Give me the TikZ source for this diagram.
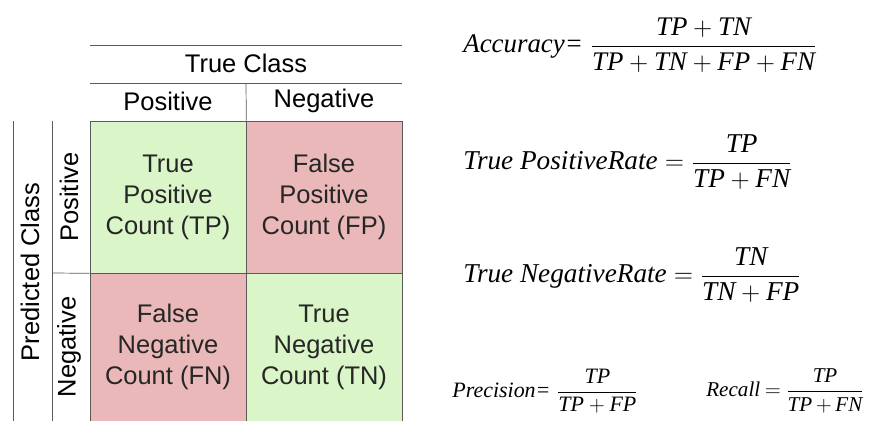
\documentclass[tikz,border=0pt]{standalone}
\usepackage{amsmath}
\usepackage{fontspec}
\setmainfont{Liberation Sans}
\newfontfamily\formfont{Liberation Serif}
\definecolor{cellgreen}{RGB}{218,246,200}
\definecolor{cellred}{RGB}{234,184,184}
\definecolor{rulegray}{RGB}{90,90,90}
\newcommand{\fw}[1]{\text{\formfont\itshape #1}}
\tikzset{
  cell/.style={draw=rulegray, minimum width=3.12cm, align=center, inner sep=0pt,
    text=black!85, font=\fontsize{14.5}{17.6}\selectfont},
  head/.style={font=\fontsize{14.5}{17.6}\selectfont},
  formula/.style={anchor=west, inner sep=0pt, font=\fontsize{15.5}{19}\selectfont},
  smallformula/.style={formula, font=\fontsize{12.5}{16}\selectfont}
}
\begin{document}
\begin{tikzpicture}[x=0.02cm, y=-0.02cm]
\useasboundingbox (0,0) rectangle (869,421);
% Matrix cells
\node[cell, fill=cellgreen, minimum height=3.04cm] (tp) at (168,197) {True\\Positive\\Count (TP)};
\node[cell, fill=cellred, minimum height=3.04cm] (fp) at (324,197) {False\\Positive\\Count (FP)};
\node[cell, fill=cellred, minimum height=2.96cm] (fn) at (168,347) {False\\Negative\\Count (FN)};
\node[cell, fill=cellgreen, minimum height=2.96cm] (tn) at (324,347) {True\\Negative\\Count (TN)};

% True class header
\node[head] (trueclass) at (246,63) {True Class};
\node[head] (tpos) at (168,101) {Positive};
\node[head] (tneg) at (324,101) {Negative};
\draw[rulegray] (90,45) -- (402,45);
\draw[rulegray] (90,83) -- (402,83);
\draw[rulegray] (246,83) -- (tp.north east);

% Predicted class header
\node[head, rotate=90] (predclass) at (30,272) {Predicted Class};
\node[head, rotate=90] (ppos) at (69,197) {Positive};
\node[head, rotate=90] (pneg) at (69,347) {Negative};
\draw[rulegray] (13,121) -- (13,421);
\draw[rulegray] (52,121) -- (52,421);
\draw[rulegray] (52,273) -- (tp.south west);

% Formulas
\node[formula, font=\fontsize{15.3}{18}\selectfont] (acc) at (463,45) {$\displaystyle \fw{Accuracy=}\;\frac{\fw{TP}+\fw{TN}}{\fw{TP}+\fw{TN}+\fw{FP}+\fw{FN}}$};
\node[formula] (tpr) at (463,162) {$\displaystyle \fw{True PositiveRate} = \frac{\fw{TP}}{\fw{TP}+\fw{FN}}$};
\node[formula] (tnr) at (463,275) {$\displaystyle \fw{True NegativeRate} = \frac{\fw{TN}}{\fw{TN}+\fw{FP}}$};
\node[smallformula] (prec) at (452,391) {$\displaystyle \fw{Precision=}\;\frac{\fw{TP}}{\fw{TP}+\fw{FP}}$};
\node[smallformula, font=\fontsize{12}{15}\selectfont] (rec) at (706,391) {$\thickmuskip=4mu \medmuskip=3mu \displaystyle \fw{Recall} = \frac{\fw{TP}}{\fw{TP}+\fw{FN}}$};
\end{tikzpicture}
\end{document}
